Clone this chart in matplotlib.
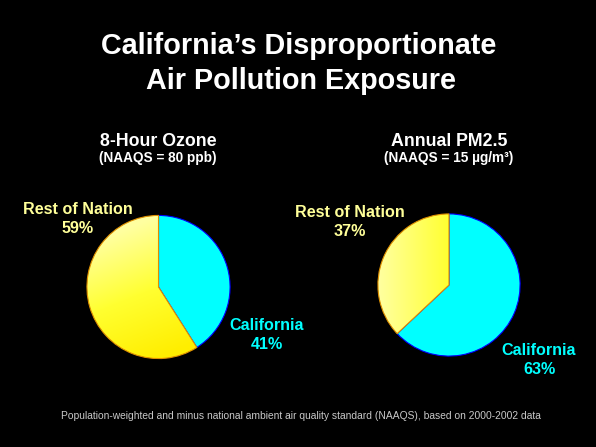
import numpy as np
import matplotlib
matplotlib.use("Agg")
from matplotlib import pyplot as plt
from matplotlib.colors import LinearSegmentedColormap

plt.rcParams['font.family'] = ['Liberation Sans', 'DejaVu Sans']

# data
labels = ["California", "Rest of Nation"]
ozone = [41, 59]
pm25 = [63, 37]
chart_titles = ["8-Hour Ozone", "Annual PM2.5"]
chart_subtitles = ["(NAAQS = 80 ppb)", "(NAAQS = 15 µg/m³)"]

W, H = 596, 447
fig = plt.figure(figsize=(W / 100, H / 100), dpi=100, facecolor="black")


def fx(x):
    return x / W


def fy(y):
    return 1 - y / H


fig.text(fx(299), fy(46), "California’s Disproportionate", color="white",
         fontsize=20.7, fontweight="bold", ha="center", va="center")
fig.text(fx(301), fy(81), "Air Pollution Exposure", color="white",
         fontsize=20.7, fontweight="bold", ha="center", va="center")

yellow_text = "#FFFF99"
cyan = "#00FFFF"


def draw_pie(cx, cy, r, values, grad_dir):
    ax = fig.add_axes([fx(cx - r), fy(cy + r), 2 * r / W, 2 * r / H])
    ax.set_facecolor("black")
    wedges, _ = ax.pie(values, startangle=90, counterclock=False,
                       colors=[cyan, "#FFFF00"], radius=1,
                       wedgeprops=dict(linewidth=0.8))
    wedges[0].set_edgecolor("#0000FF")
    wedges[1].set_edgecolor("#E09000")
    # gradient on the yellow slice
    cmap = LinearSegmentedColormap.from_list("yl", ["#FFFFA0", "#FFFF30", "#FFEE00"])
    xx, yy = np.meshgrid(np.linspace(-1, 1, 200), np.linspace(1, -1, 200))
    if grad_dir == "down":
        g = (xx * 0.4 - yy) / 2 + 0.5
    else:
        g = (xx + 1) / 2
    im = ax.imshow(g, extent=[-1, 1, -1, 1], cmap=cmap, vmin=0, vmax=1,
                   zorder=wedges[1].get_zorder() + 0.1, interpolation="bilinear")
    im.set_clip_path(wedges[1])
    wedges[1].set_facecolor("none")
    wedges[1].set_zorder(im.get_zorder() + 0.1)
    ax.set_xlim(-1.02, 1.02)
    ax.set_ylim(-1.02, 1.02)
    ax.set_aspect("equal")
    ax.axis("off")


draw_pie(158.5, 287, 73, ozone, "down")
draw_pie(449, 285, 72.5, pm25, "right")

# headings
for cx, t, s in zip([158, 449], chart_titles, chart_subtitles):
    fig.text(fx(cx), fy(141), t, color="white", fontsize=12.8,
             fontweight="bold", ha="center", va="center")
    fig.text(fx(cx), fy(158), s, color="white", fontsize=9.8,
             fontweight="bold", ha="center", va="center")

# slice labels
lab_kw = dict(fontsize=11.6, fontweight="bold", ha="center", va="center",
              linespacing=1.3)
fig.text(fx(78), fy(219), f"{labels[1]}\n{ozone[1]}%", color=yellow_text, **lab_kw)
fig.text(fx(267), fy(335), f"{labels[0]}\n{ozone[0]}%", color=cyan, **lab_kw)
fig.text(fx(350), fy(222), f"{labels[1]}\n{pm25[1]}%", color=yellow_text, **lab_kw)
fig.text(fx(539), fy(360), f"{labels[0]}\n{pm25[0]}%", color=cyan, **lab_kw)

fig.text(fx(301), fy(416),
         "Population-weighted and minus national ambient air quality standard (NAAQS), based on 2000-2002 data",
         color="#C8C8C8", fontsize=7.4, ha="center", va="center")

fig.savefig("out.png", dpi=100, facecolor="black")
